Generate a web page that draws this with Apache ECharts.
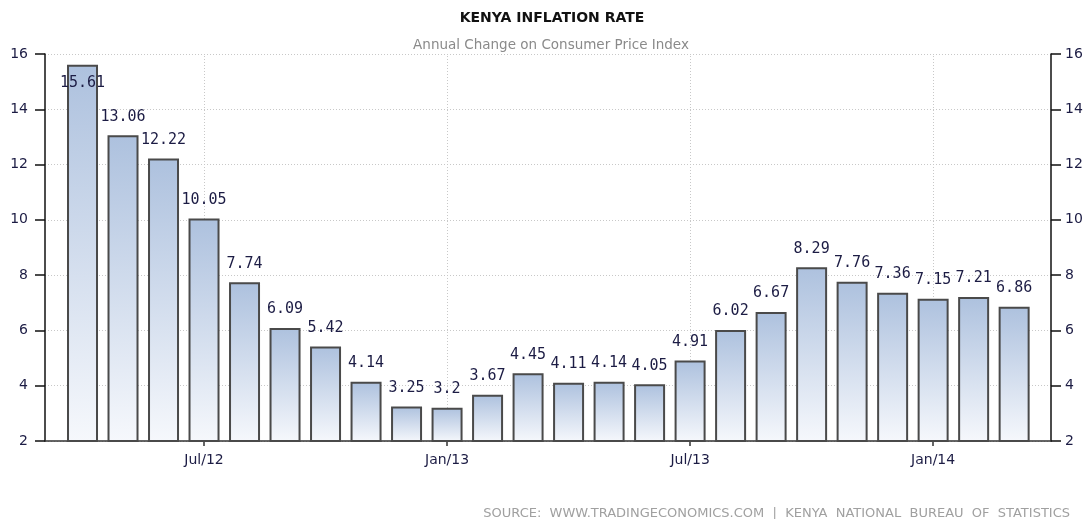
<!DOCTYPE html>
<html>
<head>
<meta charset="utf-8">
<script src="https://cdn.jsdelivr.net/npm/echarts@6/dist/echarts.min.js"></script>
<style>
  html, body { margin: 0; padding: 0; background: #fff; }
  #chart { width: 1089px; height: 519px; }
</style>
</head>
<body>
<div id="chart"></div>
<script>
// monthly readings, Apr 2012 - Mar 2014
const months = ['Apr/12', 'May/12', 'Jun/12', 'Jul/12', 'Aug/12', 'Sep/12', 'Oct/12', 'Nov/12',
  'Dec/12', 'Jan/13', 'Feb/13', 'Mar/13', 'Apr/13', 'May/13', 'Jun/13', 'Jul/13',
  'Aug/13', 'Sep/13', 'Oct/13', 'Nov/13', 'Dec/13', 'Jan/14', 'Feb/14', 'Mar/14'];
const inflation = [15.61, 13.06, 12.22, 10.05, 7.74, 6.09, 5.42, 4.14, 3.25, 3.2, 3.67, 4.45,
  4.11, 4.14, 4.05, 4.91, 6.02, 6.67, 8.29, 7.76, 7.36, 7.15, 7.21, 6.86];
const tickIdx = [3, 9, 15, 21];
const yTicks = [2, 4, 6, 8, 10, 12, 14, 16];

const chart = echarts.init(document.getElementById('chart'));

const labelColor = '#1c1c44';
const gridLine = { show: true, lineStyle: { color: '#c8c8c8', type: [1, 2], width: 1 } };

const yAxisBase = (pos) => ({
  type: 'value',
  position: pos,
  min: yTicks[0],
  max: yTicks[yTicks.length - 1],
  interval: 2,
  axisLine: { show: true, onZero: false, lineStyle: { color: '#111', width: 1.5 } },
  axisTick: { show: true, inside: false, length: 10, lineStyle: { color: '#111', width: 1.5 } },
  axisLabel: { color: labelColor, fontSize: 14, fontFamily: 'DejaVu Sans', margin: pos === 'left' ? 17 : 14 },
  splitLine: pos === 'left' ? gridLine : { show: false }
});

chart.setOption({
  animation: false,
  title: [
    {
      text: 'KENYA INFLATION RATE',
      left: 547, textAlign: 'center', top: 6,
      textStyle: { fontSize: 14, fontWeight: 'bold', color: '#111', fontFamily: 'DejaVu Sans' }
    },
    {
      text: 'Annual Change on Consumer Price Index',
      left: 546, textAlign: 'center', top: 33,
      textStyle: { fontSize: 13.5, fontWeight: 'normal', color: '#8a8a8a', fontFamily: 'DejaVu Sans' }
    },
    {
      text: 'SOURCE:  WWW.TRADINGECONOMICS.COM  |  KENYA  NATIONAL  BUREAU  OF  STATISTICS',
      right: 14, top: 502,
      textStyle: { fontSize: 13, fontWeight: 'normal', color: '#a0a0a0', fontFamily: 'DejaVu Sans' }
    }
  ],
  grid: { left: 45, right: 38, top: 54, bottom: 78 },
  xAxis: {
    type: 'value',
    min: -0.926,
    max: 23.91,
    axisLine: { show: true, onZero: false, lineStyle: { color: '#333', width: 1.5 } },
    axisTick: { show: true, customValues: tickIdx, length: 5, lineStyle: { color: '#333', width: 1.5 } },
    axisLabel: {
      customValues: tickIdx,
      color: labelColor, fontSize: 14, fontFamily: 'DejaVu Sans', margin: 12,
      formatter: (v) => months[Math.round(v)]
    },
    splitLine: { show: false }
  },
  yAxis: [yAxisBase('left'), yAxisBase('right')],
  series: [{
    type: 'bar',
    barWidth: 31,
    data: inflation.map((v, i) => ({
      value: [i, v],
      label: i === 0 ? { position: 'insideTop', distance: 11 } : undefined
    })),
    itemStyle: {
      borderColor: '#4a4a4a',
      borderWidth: 2,
      color: new echarts.graphic.LinearGradient(0, 0, 0, 1, [
        { offset: 0, color: '#adc1de' },
        { offset: 1, color: '#f6f8fc' }
      ], false)
    },
    label: {
      show: true,
      position: 'top',
      distance: 11,
      color: labelColor,
      fontSize: 15,
      fontFamily: 'DejaVu Sans Mono',
      formatter: (p) => p.value[1]
    },
    markLine: {
      silent: true,
      symbol: 'none',
      z: 1,
      label: { show: false },
      lineStyle: { color: '#c8c8c8', type: [1, 2], width: 1 },
      data: tickIdx.map((t) => ({ xAxis: t }))
    }
  }]
});

window.addEventListener('resize', () => chart.resize());
</script>
</body>
</html>
